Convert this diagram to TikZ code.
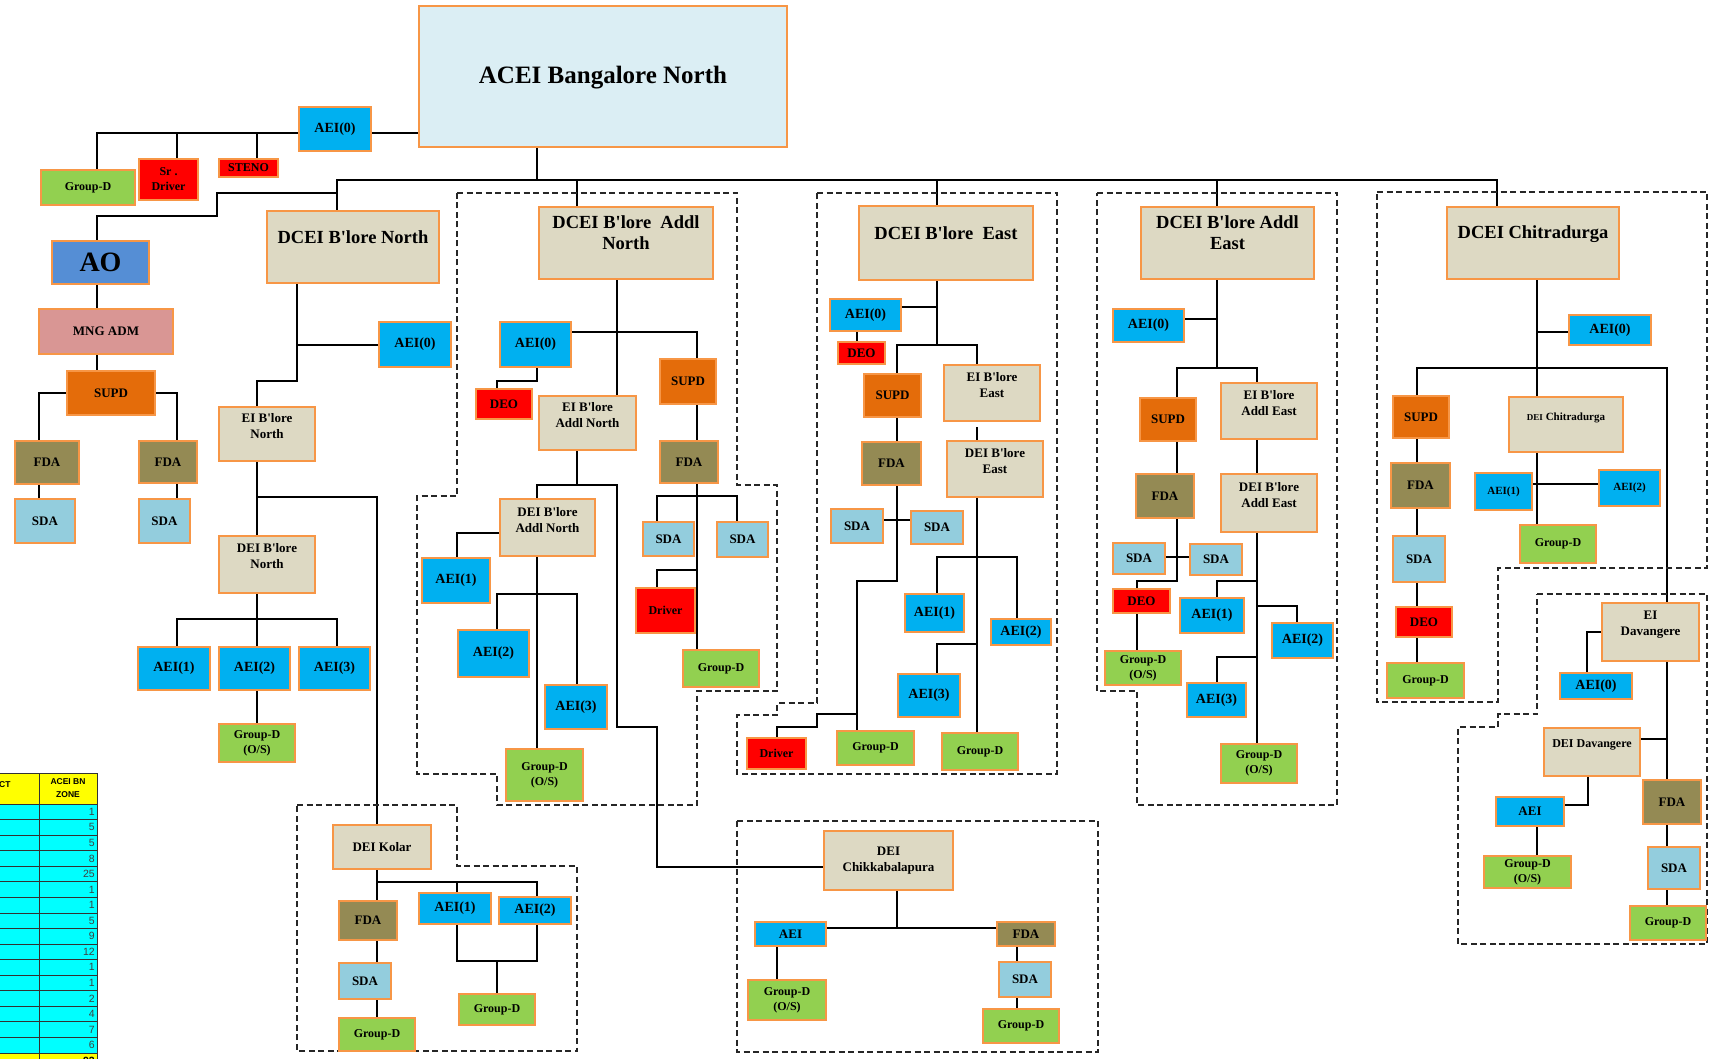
\documentclass[tikz,border=0pt]{standalone}
\usepackage{fontspec}
\setmainfont{Liberation Serif}[Ligatures=TeXOff]
\newfontfamily\tabfont{Liberation Sans}
\pgfdeclarelayer{bg}
\pgfsetlayers{bg,main}
\definecolor{boxor}{HTML}{F79646}
\definecolor{cacei}{HTML}{DBEEF4}
\definecolor{cbeige}{HTML}{DDD9C3}
\definecolor{caei}{HTML}{00B0F0}
\definecolor{cred}{HTML}{FF0000}
\definecolor{cgreen}{HTML}{92D050}
\definecolor{csda}{HTML}{93CDDD}
\definecolor{cfda}{HTML}{948A54}
\definecolor{csupd}{HTML}{E46C0A}
\definecolor{cao}{HTML}{558ED5}
\definecolor{cmng}{HTML}{D99694}
\definecolor{ccyan}{HTML}{00FFFF}
\definecolor{cyel}{HTML}{FFFF00}
\newcommand\fX{\bfseries\fontsize{11}{13}\selectfont}
\newcommand\fS{\bfseries\fontsize{12}{15}\selectfont}
\newcommand\fM{\bfseries\fontsize{13}{16}\selectfont}
\newcommand\fA{\bfseries\fontsize{14}{16}\selectfont}
\newcommand\fD{\bfseries\fontsize{18.5}{21}\selectfont}
\newcommand\fT{\bfseries\fontsize{25}{28}\selectfont}
\newcommand\fO{\bfseries\fontsize{28}{30}\selectfont}
\tikzset{
  obx/.style={draw=boxor, line width=1.3pt, inner sep=0pt, outer sep=0pt},
  txt/.style={inner sep=0pt, align=center, text=black},
  conn/.style={line width=2.4pt, line cap=rect, line join=miter, draw=black},
  grp/.style={line width=1.4pt, dash pattern=on 6pt off 3.5pt, draw=black!85},
  tabnum/.style={inner sep=0pt, anchor=east, font=\tabfont\fontsize{10.5}{12}\selectfont, text=black!75},
  tabhd/.style={inner sep=0pt, align=center, font=\tabfont\bfseries\fontsize{8.5}{13}\selectfont},
}
% #1 text yshift, #2 name, #3 fill, #4 x1, #5 y1, #6 x2, #7 y2, #8 font, #9 text
\newcommand\obox[9][0]{%
  \node[obx, fill=#3, minimum width={(#6-#4)*1pt}, minimum height={(#7-#5)*1pt}] (#2) at ({(#4+#6)/2},{(#5+#7)/2}) {};
  \node[txt, font=#8] (#2t) at ([yshift=#1pt]#2.center) {#9};
}
\begin{document}
\begin{tikzpicture}[x=1pt,y=-1pt]
\useasboundingbox (0,0) rectangle (1709,1059);
\begin{pgfonlayer}{bg}
\fill[white] (0,0) rectangle (1709,1059);
\end{pgfonlayer}

% ---------------- table (partially visible) ----------------
\begin{scope}
\clip (0,0) rectangle (1709,1059);
\fill[cyel] (0,773) rectangle (97,804);
\fill[ccyan] (0,804) rectangle (97,1053);
\fill[cyel] (0,1053) rectangle (97,1070);
\foreach \k in {0,...,16} {\draw[black!80, line width=0.7pt] (0,{804+\k*15.56}) -- (97,{804+\k*15.56});}
\draw[black!80, line width=0.7pt] (0,773) -- (97,773);
\draw[black!80, line width=0.7pt] (39,773) -- (39,1070);
\draw[black!80, line width=0.7pt] (97,773) -- (97,1070);
\node[tabhd, anchor=west] (thct) at (-1,785) {CT};
\node[tabhd] (thzone) at (68,788) {ACEI BN\\ZONE};
\foreach \v [count=\i] in {1,5,5,8,25,1,1,5,9,12,1,1,2,4,7,6} {
  \node[tabnum] (tv\i) at (95,{804+(\i-0.5)*15.56}) {\v};
}
\node[tabnum, font=\tabfont\bfseries\fontsize{10.5}{12}\selectfont, text=black] (tvtot) at (95,1061) {93};
\end{scope}

% ---------------- dashed group outlines ----------------
\draw[grp] (457,193) -- (737,193) -- (737,485) -- (777,485) -- (777,691) -- (697,691) -- (697,805) -- (497,805) -- (497,774) -- (417,774) -- (417,496) -- (457,496) -- cycle;
\draw[grp] (297,805) -- (457,805) -- (457,866) -- (577,866) -- (577,1051) -- (297,1051) -- cycle;
\draw[grp] (817,193) -- (1057,193) -- (1057,774) -- (737,774) -- (737,715) -- (777,715) -- (777,703) -- (817,703) -- cycle;
\draw[grp] (737,821) rectangle (1098,1052);
\draw[grp] (1097,193) -- (1337,193) -- (1337,805) -- (1137,805) -- (1137,691) -- (1097,691) -- cycle;
\draw[grp] (1377,192) -- (1707,192) -- (1707,568) -- (1498,568) -- (1498,702) -- (1377,702) -- cycle;
\draw[grp] (1537,594) -- (1707,594) -- (1707,944) -- (1458,944) -- (1458,727) -- (1498,727) -- (1498,714) -- (1537,714) -- cycle;

% ---------------- top ----------------
\obox[-1]{acei}{cacei}{419}{6}{787}{147}{\fT}{ACEI Bangalore North}
\obox{aeiot}{caei}{299}{107}{371}{151}{\fA}{AEI(0)}
\obox{gdt}{cgreen}{41}{170}{135}{205}{\fS}{Group-D}
\obox{srd}{cred}{139}{159}{198}{200}{\fS}{Sr .\\Driver}
\obox{steno}{cred}{219}{159}{278}{177}{\fS}{STENO}
\obox{ao}{cao}{52}{241}{149}{284}{\fO}{AO}
\obox{mng}{cmng}{39}{309}{173}{354}{\fM}{MNG ADM}
\obox{supdo}{csupd}{67}{371}{155}{415}{\fM}{SUPD}
\obox{fdaoa}{cfda}{15}{441}{79}{484}{\fM}{FDA}
\obox{fdaob}{cfda}{139}{441}{197}{483}{\fM}{FDA}
\obox{sdaoa}{csda}{15}{499}{75}{543}{\fM}{SDA}
\obox{sdaob}{csda}{139}{499}{190}{543}{\fM}{SDA}

% ---------------- DCEI North ----------------
\obox[10]{dn}{cbeige}{267}{211}{439}{283}{\fD}{DCEI B'lore North}
\obox{aeion}{caei}{379}{322}{451}{367}{\fA}{AEI(0)}
\obox[8]{ein}{cbeige}{219}{407}{315}{461}{\fM}{EI B'lore\\North}
\obox[8]{dein}{cbeige}{219}{536}{315}{593}{\fM}{DEI B'lore\\North}
\obox{aeiin}{caei}{138}{647}{210}{690}{\fA}{AEI(1)}
\obox{aeiiin}{caei}{219}{647}{290}{690}{\fA}{AEI(2)}
\obox{aeiiiin}{caei}{299}{647}{370}{690}{\fA}{AEI(3)}
\obox{gdn}{cgreen}{219}{724}{295}{762}{\fS}{Group-D\\(O/S)}

% ---------------- Kolar ----------------
\obox{kol}{cbeige}{333}{825}{431}{869}{\fM}{DEI Kolar}
\obox{fdak}{cfda}{339}{901}{397}{940}{\fM}{FDA}
\obox{sdak}{csda}{339}{963}{391}{999}{\fM}{SDA}
\obox{gdk}{cgreen}{339}{1018}{415}{1051}{\fS}{Group-D}
\obox{aeiik}{caei}{419}{893}{491}{924}{\fA}{AEI(1)}
\obox{aeiiik}{caei}{499}{897}{571}{924}{\fA}{AEI(2)}
\obox{gdkb}{cgreen}{459}{994}{535}{1025}{\fS}{Group-D}

% ---------------- DCEI Addl North ----------------
\obox[10.5]{dan}{cbeige}{539}{207}{713}{279}{\fD}{DCEI B'lore~ Addl\\North}
\obox{aeioan}{caei}{500}{322}{571}{367}{\fA}{AEI(0)}
\obox{deoan}{cred}{476}{389}{532}{419}{\fM}{DEO}
\obox[8]{eian}{cbeige}{539}{396}{636}{450}{\fM}{EI B'lore\\Addl North}
\obox{supdan}{csupd}{660}{359}{716}{404}{\fM}{SUPD}
\obox{fdaan}{cfda}{660}{441}{718}{483}{\fM}{FDA}
\obox{sdaan}{csda}{643}{522}{694}{556}{\fM}{SDA}
\obox{sdaanb}{csda}{717}{522}{768}{557}{\fM}{SDA}
\obox{drvan}{cred}{636}{588}{695}{633}{\fS}{Driver}
\obox{gdan}{cgreen}{683}{650}{759}{687}{\fS}{Group-D}
\obox[7]{deian}{cbeige}{500}{499}{595}{556}{\fM}{DEI B'lore\\Addl North}
\obox{aeiian}{caei}{422}{558}{490}{603}{\fA}{AEI(1)}
\obox{aeiiian}{caei}{458}{630}{529}{677}{\fA}{AEI(2)}
\obox{aeiiiian}{caei}{545}{685}{607}{729}{\fA}{AEI(3)}
\obox{gdanb}{cgreen}{506}{749}{583}{801}{\fS}{Group-D\\(O/S)}

% ---------------- Chikkabalapura ----------------
\obox{chk}{cbeige}{824}{831}{953}{890}{\fM}{DEI\\Chikkabalapura}
\obox{aeich}{caei}{755}{922}{826}{946}{\fM}{AEI}
\obox{gdch}{cgreen}{748}{980}{826}{1020}{\fS}{Group-D\\(O/S)}
\obox{fdach}{cfda}{997}{922}{1055}{946}{\fM}{FDA}
\obox{sdach}{csda}{999}{962}{1051}{997}{\fM}{SDA}
\obox{gdchb}{cgreen}{983}{1009}{1059}{1043}{\fS}{Group-D}

% ---------------- DCEI East ----------------
\obox[10]{de}{cbeige}{859}{206}{1033}{280}{\fD}{DCEI B'lore~ East}
\obox{aeioe}{caei}{830}{299}{901}{331}{\fA}{AEI(0)}
\obox{deoe}{cred}{838}{342}{885}{364}{\fM}{DEO}
\obox{supde}{csupd}{864}{374}{921}{417}{\fM}{SUPD}
\obox[7.5]{eie}{cbeige}{944}{365}{1040}{421}{\fM}{EI B'lore\\East}
\obox{fdae}{cfda}{862}{442}{921}{485}{\fM}{FDA}
\obox[8]{deie}{cbeige}{947}{441}{1043}{497}{\fM}{DEI B'lore\\East}
\obox{sdae}{csda}{831}{509}{883}{543}{\fM}{SDA}
\obox{sdaeb}{csda}{911}{511}{963}{544}{\fM}{SDA}
\obox{aeiie}{caei}{905}{594}{964}{632}{\fA}{AEI(1)}
\obox{aeiiie}{caei}{991}{619}{1051}{645}{\fA}{AEI(2)}
\obox{aeiiiie}{caei}{898}{674}{960}{717}{\fA}{AEI(3)}
\obox{gde}{cgreen}{837}{731}{914}{765}{\fS}{Group-D}
\obox{gdeb}{cgreen}{942}{733}{1018}{770}{\fS}{Group-D}
\obox{drve}{cred}{747}{738}{806}{769}{\fS}{Driver}

% ---------------- DCEI Addl East ----------------
\obox[10.5]{dae}{cbeige}{1141}{207}{1314}{279}{\fD}{DCEI B'lore Addl\\East}
\obox{aeioae}{caei}{1113}{309}{1184}{342}{\fA}{AEI(0)}
\obox{supdae}{csupd}{1140}{398}{1196}{441}{\fM}{SUPD}
\obox[7.5]{eiae}{cbeige}{1221}{383}{1317}{439}{\fM}{EI B'lore\\Addl East}
\obox{fdaae}{cfda}{1136}{474}{1194}{518}{\fM}{FDA}
\obox[8]{deiae}{cbeige}{1221}{474}{1317}{532}{\fM}{DEI B'lore\\Addl East}
\obox{sdaae}{csda}{1113}{543}{1165}{574}{\fM}{SDA}
\obox{sdaaeb}{csda}{1190}{544}{1242}{575}{\fM}{SDA}
\obox{deoae}{cred}{1113}{589}{1170}{613}{\fM}{DEO}
\obox{gdae}{cgreen}{1105}{651}{1181}{685}{\fS}{Group-D\\(O/S)}
\obox{aeiiae}{caei}{1180}{598}{1244}{633}{\fA}{AEI(1)}
\obox{aeiiiae}{caei}{1272}{623}{1333}{658}{\fA}{AEI(2)}
\obox{aeiiiiae}{caei}{1187}{683}{1246}{717}{\fA}{AEI(3)}
\obox{gdaeb}{cgreen}{1221}{744}{1297}{783}{\fS}{Group-D\\(O/S)}

% ---------------- DCEI Chitradurga ----------------
\obox[9]{dch}{cbeige}{1447}{207}{1619}{279}{\fD}{DCEI Chitradurga}
\obox{aeioch}{caei}{1569}{315}{1651}{345}{\fA}{AEI(0)}
\obox{supdcd}{csupd}{1393}{396}{1449}{438}{\fM}{SUPD}
\obox{fdacd}{cfda}{1391}{463}{1450}{508}{\fM}{FDA}
\obox{sdacd}{csda}{1393}{536}{1445}{582}{\fM}{SDA}
\obox{deocd}{cred}{1396}{607}{1452}{637}{\fM}{DEO}
\obox{gdcd}{cgreen}{1387}{663}{1464}{698}{\fS}{Group-D}
\obox[6.5]{deicd}{cbeige}{1509}{397}{1623}{452}{\fX}{{\fontsize{9}{11}\selectfont DEI} Chitradurga}
\obox{aeiicd}{caei}{1475}{473}{1532}{510}{\fX}{AEI(1)}
\obox{aeiiicd}{caei}{1599}{470}{1660}{506}{\fX}{AEI(2)}
\obox{gdcdb}{cgreen}{1520}{525}{1596}{563}{\fS}{Group-D}
\obox[7]{eidv}{cbeige}{1602}{603}{1699}{661}{\fM}{EI\\Davangere}
\obox{aeiodv}{caei}{1560}{673}{1632}{699}{\fA}{AEI(0)}
\obox[7]{deidv}{cbeige}{1544}{728}{1640}{776}{\fS}{DEI Davangere}
\obox{aeidv}{caei}{1496}{797}{1564}{826}{\fM}{AEI}
\obox{gddv}{cgreen}{1484}{856}{1571}{888}{\fS}{Group-D\\(O/S)}
\obox{fdadv}{cfda}{1643}{780}{1701}{824}{\fM}{FDA}
\obox{sdadv}{csda}{1648}{847}{1700}{889}{\fM}{SDA}
\obox{gddvb}{cgreen}{1630}{906}{1706}{940}{\fS}{Group-D}

% ---------------- connectors ----------------
\begin{pgfonlayer}{bg}
% top
\draw[conn] (aeiot.east |- 0,133) -- (acei.west |- 0,133);
\draw[conn] (aeiot.west |- 0,133) -- (97,133) -- (97,0 |- gdt.north);
\draw[conn] (177,133) -- (177,0 |- srd.north);
\draw[conn] (257,133) -- (257,0 |- steno.north);
\draw[conn] (537,0 |- acei.south) -- (537,180);
\draw[conn] (337,180) -- (1497,180);
\draw[conn] (337,180) -- (337,0 |- dn.north);
\draw[conn] (577,180) -- (577,0 |- dan.north);
\draw[conn] (937,180) -- (937,0 |- de.north);
\draw[conn] (1217,180) -- (1217,0 |- dae.north);
\draw[conn] (1497,180) -- (1497,0 |- dch.north);
\draw[conn] (337,193) -- (217,193) -- (217,216) -- (97,216) -- (97,0 |- ao.north);
\draw[conn] (97,0 |- ao.south) -- (97,0 |- mng.north);
\draw[conn] (97,0 |- mng.south) -- (97,0 |- supdo.north);
\draw[conn] (supdo.west |- 0,393) -- (39,393) -- (39,0 |- fdaoa.north);
\draw[conn] (supdo.east |- 0,393) -- (177,393) -- (177,0 |- fdaob.north);
\draw[conn] (39,0 |- fdaoa.south) -- (39,0 |- sdaoa.north);
\draw[conn] (177,0 |- fdaob.south) -- (177,0 |- sdaob.north);
% North
\draw[conn] (297,0 |- dn.south) -- (297,381) -- (257,381) -- (257,0 |- ein.north);
\draw[conn] (297,345) -- (aeion.west |- 0,345);
\draw[conn] (257,0 |- ein.south) -- (257,0 |- dein.north);
\draw[conn] (257,497) -- (377,497) -- (377,0 |- kol.north);
\draw[conn] (257,0 |- dein.south) -- (257,619);
\draw[conn] (177,0 |- aeiin.north) -- (177,619) -- (337,619) -- (337,0 |- aeiiiin.north);
\draw[conn] (257,619) -- (257,0 |- aeiiin.north);
\draw[conn] (257,0 |- aeiiin.south) -- (257,0 |- gdn.north);
% Kolar
\draw[conn] (377,0 |- kol.south) -- (377,0 |- fdak.north);
\draw[conn] (377,882) -- (537,882) -- (537,0 |- aeiiik.north);
\draw[conn] (457,882) -- (457,0 |- aeiik.north);
\draw[conn] (377,0 |- fdak.south) -- (377,0 |- sdak.north);
\draw[conn] (377,0 |- sdak.south) -- (377,0 |- gdk.north);
\draw[conn] (457,0 |- aeiik.south) -- (457,961) -- (537,961) -- (537,0 |- aeiiik.south);
\draw[conn] (497,961) -- (497,0 |- gdkb.north);
% Addl North
\draw[conn] (617,0 |- dan.south) -- (617,0 |- eian.north);
\draw[conn] (aeioan.east |- 0,332) -- (697,332) -- (697,0 |- supdan.north);
\draw[conn] (537,0 |- aeioan.south) -- (537,381) -- (497,381) -- (497,0 |- deoan.north);
\draw[conn] (697,0 |- supdan.south) -- (697,0 |- fdaan.north);
\draw[conn] (697,0 |- fdaan.south) -- (697,0 |- gdan.north);
\draw[conn] (657,0 |- sdaan.north) -- (657,496) -- (737,496) -- (737,0 |- sdaanb.north);
\draw[conn] (697,570) -- (657,570) -- (657,0 |- drvan.north);
\draw[conn] (577,0 |- eian.south) -- (577,485) -- (537,485) -- (537,0 |- deian.north);
\draw[conn] (577,485) -- (617,485) -- (617,727) -- (657,727) -- (657,867) -- (chk.west |- 0,867);
\draw[conn] (deian.west |- 0,533) -- (457,533) -- (457,0 |- aeiian.north);
\draw[conn] (537,0 |- deian.south) -- (537,0 |- gdanb.north);
\draw[conn] (497,0 |- aeiiian.north) -- (497,594) -- (577,594) -- (577,0 |- aeiiiian.north);
% Chikkabalapura
\draw[conn] (897,0 |- chk.south) -- (897,928);
\draw[conn] (aeich.east |- 0,928) -- (fdach.west |- 0,928);
\draw[conn] (777,0 |- aeich.south) -- (777,0 |- gdch.north);
\draw[conn] (1017,0 |- fdach.south) -- (1017,0 |- sdach.north);
\draw[conn] (1017,0 |- sdach.south) -- (1017,0 |- gdchb.north);
% East
\draw[conn] (937,0 |- de.south) -- (937,345);
\draw[conn] (aeioe.east |- 0,307) -- (937,307);
\draw[conn] (857,0 |- aeioe.south) -- (857,0 |- deoe.north);
\draw[conn] (897,0 |- supde.north) -- (897,345) -- (977,345) -- (977,0 |- eie.north);
\draw[conn] (897,0 |- supde.south) -- (897,0 |- fdae.north);
\draw[conn] (977,428) -- (977,0 |- deie.north);
\draw[conn] (897,0 |- fdae.south) -- (897,581) -- (857,581) -- (857,0 |- gde.north);
\draw[conn] (sdae.east |- 0,520) -- (sdaeb.west |- 0,520);
\draw[conn] (857,714) -- (817,714) -- (817,727) -- (777,727) -- (777,0 |- drve.north);
\draw[conn] (977,0 |- deie.south) -- (977,0 |- gdeb.north);
\draw[conn] (937,0 |- aeiie.north) -- (937,557) -- (1017,557) -- (1017,0 |- aeiiie.north);
\draw[conn] (977,644) -- (937,644) -- (937,0 |- aeiiiie.north);
% Addl East
\draw[conn] (1217,0 |- dae.south) -- (1217,368);
\draw[conn] (aeioae.east |- 0,319) -- (1217,319);
\draw[conn] (1177,0 |- supdae.north) -- (1177,368) -- (1257,368) -- (1257,0 |- eiae.north);
\draw[conn] (1177,0 |- supdae.south) -- (1177,0 |- fdaae.north);
\draw[conn] (1257,0 |- eiae.south) -- (1257,0 |- deiae.north);
\draw[conn] (1177,0 |- fdaae.south) -- (1177,581) -- (1137,581) -- (1137,0 |- deoae.north);
\draw[conn] (sdaae.east |- 0,557) -- (sdaaeb.west |- 0,557);
\draw[conn] (1137,0 |- deoae.south) -- (1137,0 |- gdae.north);
\draw[conn] (1257,0 |- deiae.south) -- (1257,0 |- gdaeb.north);
\draw[conn] (1217,0 |- aeiiae.north) -- (1217,581) -- (1257,581);
\draw[conn] (1257,606) -- (1297,606) -- (1297,0 |- aeiiiae.north);
\draw[conn] (1257,657) -- (1217,657) -- (1217,0 |- aeiiiiae.north);
% Chitradurga
\draw[conn] (1537,0 |- dch.south) -- (1537,0 |- deicd.north);
\draw[conn] (1537,332) -- (aeioch.west |- 0,332);
\draw[conn] (1417,0 |- supdcd.north) -- (1417,368) -- (1667,368) -- (1667,0 |- eidv.north);
\draw[conn] (1417,0 |- supdcd.south) -- (1417,0 |- fdacd.north);
\draw[conn] (1417,0 |- fdacd.south) -- (1417,0 |- sdacd.north);
\draw[conn] (1417,0 |- sdacd.south) -- (1417,0 |- deocd.north);
\draw[conn] (1417,0 |- deocd.south) -- (1417,0 |- gdcd.north);
\draw[conn] (1537,0 |- deicd.south) -- (1537,0 |- gdcdb.north);
\draw[conn] (aeiicd.east |- 0,484) -- (aeiiicd.west |- 0,484);
\draw[conn] (eidv.west |- 0,632) -- (1587,632) -- (1587,0 |- aeiodv.north);
\draw[conn] (1667,0 |- eidv.south) -- (1667,0 |- fdadv.north);
\draw[conn] (deidv.east |- 0,739) -- (1667,739);
\draw[conn] (1588,0 |- deidv.south) -- (1588,805) -- (aeidv.east |- 0,805);
\draw[conn] (1537,0 |- aeidv.south) -- (1537,0 |- gddv.north);
\draw[conn] (1667,0 |- fdadv.south) -- (1667,0 |- sdadv.north);
\draw[conn] (1667,0 |- sdadv.south) -- (1667,0 |- gddvb.north);
\end{pgfonlayer}
\end{tikzpicture}
\end{document}
